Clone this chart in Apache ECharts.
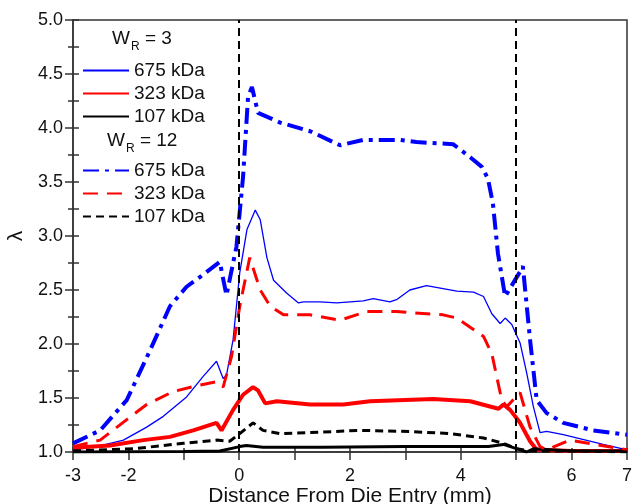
<!DOCTYPE html>
<html><head><meta charset="utf-8">
<script src="https://cdn.jsdelivr.net/npm/echarts@6/dist/echarts.min.js"></script>
<style>html,body{margin:0;padding:0;background:#fff}#c{width:633px;height:504px}</style>
</head><body><div id="c"></div>
<script>
const xTickLabels = [-3, -2, 0, 2, 4, 6, 7];
const dieLines = [0, 5];

const w3_675_x = [-3, -2.57, -2.09, -1.67, -1.37, -0.95, -0.65, -0.41, -0.29, -0.23, -0.11, 0.01, 0.14, 0.29, 0.38, 0.5, 0.62, 0.86, 1.07, 1.16, 1.46, 1.76, 2.24, 2.42, 2.72, 2.84, 3.08, 3.38, 3.93, 4.23, 4.41, 4.56, 4.71, 4.80, 4.92, 5.07, 5.19, 5.31, 5.43, 5.55, 5.85, 6.09, 6.57, 7];
const w3_675_y = [1.02, 1.05, 1.11, 1.23, 1.33, 1.51, 1.70, 1.84, 1.68, 1.71, 2.04, 2.66, 3.06, 3.24, 3.15, 2.80, 2.59, 2.47, 2.38, 2.39, 2.39, 2.38, 2.40, 2.42, 2.39, 2.41, 2.50, 2.54, 2.49, 2.48, 2.44, 2.28, 2.19, 2.24, 2.18, 2.01, 1.73, 1.42, 1.18, 1.19, 1.16, 1.13, 1.07, 1.02];

const w3_323_x = [-3, -2.33, -1.73, -1.25, -0.83, -0.41, -0.32, -0.11, 0.07, 0.25, 0.34, 0.47, 0.68, 1.28, 1.88, 2.36, 3.50, 4.17, 4.68, 4.77, 4.89, 5.07, 5.25, 5.37, 6, 7];
const w3_323_y = [1.04, 1.06, 1.11, 1.14, 1.20, 1.27, 1.20, 1.39, 1.53, 1.60, 1.57, 1.45, 1.47, 1.44, 1.44, 1.47, 1.49, 1.47, 1.40, 1.44, 1.39, 1.27, 1.10, 1.02, 1.01, 1.01];

const w3_107_x = [-3, -1, -0.35, 0.01, 0.13, 0.43, 1.5, 3, 4.5, 4.77, 4.95, 5.19, 5.31, 6, 7];
const w3_107_y = [1.0, 1.005, 1.01, 1.05, 1.06, 1.045, 1.045, 1.05, 1.05, 1.07, 1.04, 1.00, 1.03, 1.01, 1.01];

const w12_675_x = [-3, -2.51, -2.03, -1.61, -1.25, -0.95, -0.71, -0.35, -0.23, -0.05, 0.07, 0.16, 0.23, 0.34, 0.74, 1.28, 1.82, 2.24, 2.9, 3.2, 3.86, 4.17, 4.38, 4.49, 4.58, 4.67, 4.80, 5.07, 5.12, 5.25, 5.37, 5.55, 5.85, 6.39, 7];
const w12_675_y = [1.08, 1.20, 1.48, 1.94, 2.35, 2.53, 2.62, 2.76, 2.45, 2.90, 3.55, 4.29, 4.38, 4.14, 4.05, 3.97, 3.84, 3.89, 3.89, 3.87, 3.85, 3.73, 3.64, 3.53, 3.30, 2.84, 2.44, 2.67, 2.72, 2.04, 1.48, 1.36, 1.27, 1.20, 1.16];

const w12_323_x = [-3, -2.51, -2.03, -1.67, -1.19, -0.71, -0.41, -0.29, -0.14, 0.01, 0.19, 0.38, 0.56, 0.80, 1.28, 1.82, 2.3, 2.84, 3.68, 3.93, 4.41, 4.56, 4.74, 4.83, 5.07, 5.25, 5.43, 5.55, 5.97, 7];
const w12_323_y = [1.05, 1.11, 1.30, 1.44, 1.56, 1.62, 1.65, 1.60, 1.88, 2.35, 2.80, 2.50, 2.35, 2.27, 2.27, 2.22, 2.30, 2.30, 2.27, 2.24, 2.07, 1.91, 1.48, 1.42, 1.55, 1.23, 1.05, 1.02, 1.11, 1.02];

const w12_107_x = [-3, -1.91, -1.01, -0.41, -0.17, 0.01, 0.25, 0.43, 0.74, 1.28, 2.18, 3.08, 3.80, 4.41, 4.77, 5.01, 5.25, 6, 7];
const w12_107_y = [1.01, 1.03, 1.08, 1.11, 1.10, 1.17, 1.27, 1.20, 1.17, 1.18, 1.20, 1.19, 1.17, 1.13, 1.08, 1.03, 1.01, 1.01, 1.00];

const zip = (xs, ys) => xs.map((x, i) => [x, ys[i]]);
const FONT = 'Arial, "Liberation Sans", sans-serif';

function ser(name, xs, ys, color, width, type) {
  return {
    name: name, type: 'line', data: zip(xs, ys), symbol: 'none', showSymbol: false,
    xAxisIndex: 0, yAxisIndex: 0,
    lineStyle: { color: color, width: width, type: type },
    itemStyle: { color: color },
    emphasis: { disabled: true }, animation: false
  };
}

const series = [
  ser('675 kDa|a', w3_675_x, w3_675_y, '#0000ff', 1.3, 'solid'),
  ser('323 kDa|a', w3_323_x, w3_323_y, '#ff0000', 4, 'solid'),
  ser('107 kDa|a', w3_107_x, w3_107_y, '#000000', 3, 'solid'),
  ser('675 kDa|b', w12_675_x, w12_675_y, '#0000ff', 4, [16, 6, 4, 6]),
  ser('323 kDa|b', w12_323_x, w12_323_y, '#ff0000', 3, [15, 9]),
  ser('107 kDa|b', w12_107_x, w12_107_y, '#000000', 3, [8, 5])
];
series.push({
  type: 'line', data: [], xAxisIndex: 0, yAxisIndex: 0, silent: true,
  markLine: {
    silent: true, symbol: 'none', animation: false,
    label: { show: false },
    lineStyle: { color: '#000', width: 2, type: [8, 5] },
    data: dieLines.map(v => ({ xAxis: v }))
  }
});

const legendBase = {
  orient: 'vertical', left: 77, itemWidth: 46, itemHeight: 14, itemGap: 4,
  itemStyle: { opacity: 0 },
  textStyle: { fontFamily: FONT, fontSize: 19, color: '#111' },
  formatter: n => n.split('|')[0],
  selectedMode: false
};

const hdrRich = {
  a: { fontFamily: FONT, fontSize: 19, fill: '#111' },
  s: { fontFamily: FONT, fontSize: 12, fill: '#111', padding: [17, 0, 0, 1] }
};

const option = {
  animation: false,
  grid: { left: 73, right: 6, top: 20, bottom: 52, show: true, borderColor: '#333', borderWidth: 1.5, outerBoundsMode: 'none', containLabel: false },
  legend: [
    Object.assign({}, legendBase, { top: 56, data: ['675 kDa|a', '323 kDa|a', '107 kDa|a'] }),
    Object.assign({}, legendBase, { top: 156, data: ['675 kDa|b', '323 kDa|b', '107 kDa|b'] })
  ],
  graphic: [
    { type: 'text', left: 112, top: 29, style: { text: '{a|W}{s|R}{a| = 3}', rich: hdrRich } },
    { type: 'text', left: 107, top: 131, style: { text: '{a|W}{s|R}{a| = 12}', rich: hdrRich } }
  ],
  xAxis: [
    {
      type: 'value', min: -3, max: 7, interval: 1, position: 'bottom',
      name: 'Distance From Die Entry (mm)', nameLocation: 'middle', nameGap: 34, nameMoveOverlap: false,
      nameTextStyle: { fontFamily: FONT, fontSize: 21, color: '#111' },
      axisLine: { show: true, onZero: false, lineStyle: { color: '#333', width: 1.5 } },
      axisTick: { show: true, length: 8, lineStyle: { color: '#333', width: 1.5 } },
      axisLabel: { fontFamily: FONT, fontSize: 18, color: '#111', margin: 15,
        formatter: v => (xTickLabels.indexOf(Math.round(v)) >= 0 ? String(Math.round(v)) : '') },
      splitLine: { show: false }
    },
    {
      type: 'value', min: -3, max: 7, interval: 1, position: 'bottom', gridIndex: 0,
      axisLine: { show: false, onZero: false },
      axisTick: { show: true, inside: true, length: 4, lineStyle: { color: '#333', width: 1.5 } },
      axisLabel: { show: false }, splitLine: { show: false }
    }
  ],
  yAxis: [
    {
      type: 'value', min: 1, max: 5, interval: 0.5,
      name: 'λ', nameLocation: 'middle', nameGap: 46, nameRotate: 90, nameMoveOverlap: false,
      nameTextStyle: { fontFamily: FONT, fontSize: 21, color: '#111' },
      axisLine: { show: true, onZero: false, lineStyle: { color: '#333', width: 1.5 } },
      axisTick: { show: true, length: 8, lineStyle: { color: '#333', width: 1.5 } },
      minorTick: { show: true, splitNumber: 2, length: 5, lineStyle: { color: '#333', width: 1.5 } },
      axisLabel: { fontFamily: FONT, fontSize: 18, color: '#111', margin: 10, formatter: v => v.toFixed(1) },
      splitLine: { show: false }
    },
    {
      type: 'value', min: 1, max: 5, interval: 0.5, position: 'left',
      axisLine: { show: false, onZero: false },
      axisTick: { show: true, inside: true, length: 6, lineStyle: { color: '#333', width: 1.5 } },
      minorTick: { show: true, splitNumber: 2, length: 6, lineStyle: { color: '#333', width: 1.5 } },
      axisLabel: { show: false }, splitLine: { show: false }
    }
  ],
  series: series
};

const chart = echarts.init(document.getElementById('c'), null, { renderer: 'canvas' });
chart.setOption(option);
</script>
</body></html>
